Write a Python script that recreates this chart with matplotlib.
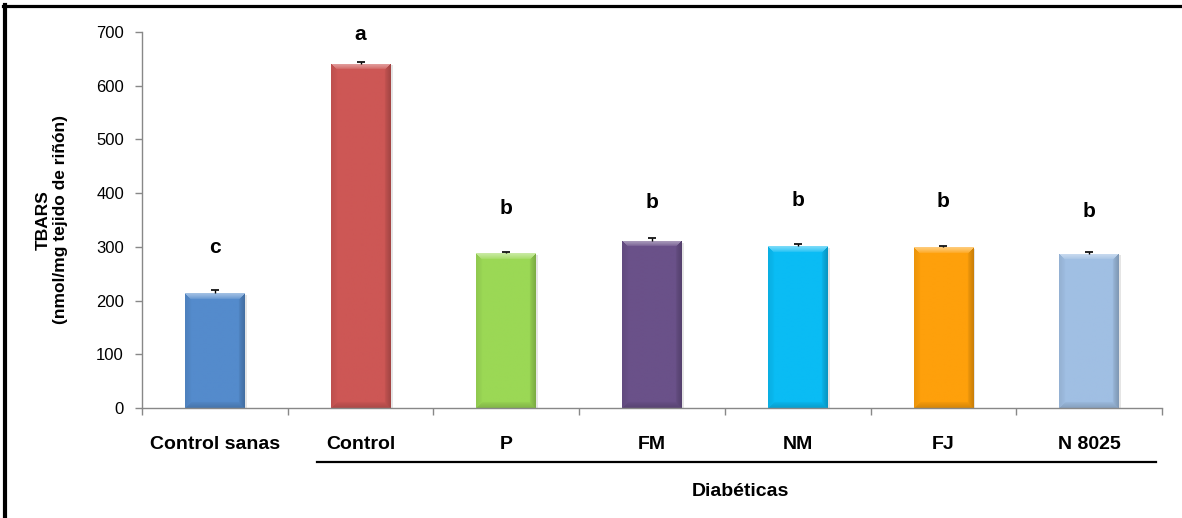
import numpy as np
import matplotlib
matplotlib.use("Agg")
import matplotlib.pyplot as plt
from matplotlib.lines import Line2D
from matplotlib.colors import to_rgb
import matplotlib.transforms as mtransforms

# Kidney TBARS per group
categories = ["Control sanas", "Control", "P", "FM", "NM", "FJ", "N 8025"]
tbars = [214, 641, 288, 311, 301, 299, 287]
sem = [5, 3, 2, 5, 4, 3, 3]
letters = ["c", "a", "b", "b", "b", "b", "b"]
letter_y = [298, 695, 372, 382, 387, 384, 365]
bar_colors = ["#548BCC", "#CD5755", "#9BD855", "#6A5189", "#0ABCF4", "#FEA00B", "#A0BFE3"]
group_label = "Diabéticas"
y_ticks = [0, 100, 200, 300, 400, 500, 600, 700]

plt.rcParams["font.family"] = ["Liberation Sans", "DejaVu Sans"]

W, H = 1182, 518
fig = plt.figure(figsize=(W / 100, H / 100), dpi=100)
ax = fig.add_axes([142 / W, 1 - 408 / H, (1162 - 142) / W, (408 - 32) / H])

x = np.arange(len(categories))
bar_w = 0.41
bars = ax.bar(x, tbars, width=bar_w, color=bar_colors, edgecolor="none", zorder=2)

ax.set_xlim(-0.5, len(categories) - 0.5)
ax.set_ylim(0, 700)


def shade(base, h_px, w_px, bevel=6.0):
    """Soft bevelled fill: light top edge, shaded sides and bottom."""
    rgb = np.array(to_rgb(base))
    h_px, w_px = max(int(h_px), 2), max(int(w_px), 2)
    ii, jj = np.mgrid[0:h_px, 0:w_px].astype(float)
    d = np.stack([ii, jj, w_px - 1 - jj, h_px - 1 - ii])
    nearest = d.argmin(axis=0)
    dmin = d.min(axis=0)
    # strength fades from the edge inward
    k = np.clip(1 - dmin / bevel, 0, 1) ** 0.7
    img = np.tile(rgb, (h_px, w_px, 1))
    white = np.ones(3)
    targets = [rgb * 0.55 + white * 0.45,   # top
               rgb * 0.93,                  # left
               rgb * 0.80,                  # right
               rgb * 0.85]                  # bottom
    for n, t in enumerate(targets):
        m = nearest == n
        img[m] = img[m] * (1 - k[m, None]) + t * k[m, None]
    return np.clip(img, 0, 1)


px_per_unit = (408 - 32) / 700
px_per_cat = (1162 - 142) / len(categories)
for rect, col in zip(bars, bar_colors):
    x0, w, h = rect.get_x(), rect.get_width(), rect.get_height()
    img = shade(col, h * px_per_unit, w * px_per_cat)
    im = ax.imshow(img, extent=(x0, x0 + w, 0, h), aspect="auto",
                   interpolation="bilinear", zorder=2.5)
    im.set_clip_path(rect)
    # soft drop shadow
    ax.bar(x0 + w / 2 + 0.01, h, width=w + 0.01, bottom=-3, color="#000000",
           alpha=0.10, zorder=1.5, edgecolor="none")

ax.set_aspect("auto")
ax.set_xlim(-0.5, len(categories) - 0.5)
ax.set_ylim(0, 700)

# upper error bars (T shape)
tops = np.array(tbars) + np.array(sem)
ax.vlines(x, tbars, tops, color="black", linewidth=1.0, zorder=4)
ax.plot(x, tops, linestyle="none", marker="_", markersize=6,
        markeredgewidth=1.2, color="black", zorder=4)

for xi, lab, ly in zip(x, letters, letter_y):
    ax.text(xi, ly, lab, ha="center", va="center", fontsize=15,
            fontweight="bold", color="black", zorder=5)

# spines and ticks
for s in ["top", "right"]:
    ax.spines[s].set_visible(False)
for s in ["left", "bottom"]:
    ax.spines[s].set_color("#888888")
    ax.spines[s].set_linewidth(1.0)

ax.set_yticks(y_ticks)
ax.tick_params(axis="y", direction="out", length=5, width=1, color="#888888",
               labelsize=12, pad=8)
ax.set_xticks(x)
ax.set_xticklabels(categories, fontsize=14, fontweight="bold")
ax.tick_params(axis="x", which="major", length=0, pad=20)
ax.set_xticks(np.arange(-0.5, len(categories)), minor=True)
ax.tick_params(axis="x", which="minor", direction="out", length=5, width=1,
               color="#888888")

# group underline and label
trans = mtransforms.blended_transform_factory(ax.transData, fig.transFigure)
ax.add_line(Line2D([0.70, 6.46], [1 - 462 / H, 1 - 462 / H], transform=trans,
                   color="black", linewidth=1.6, clip_on=False))
fig.text(740 / W, 1 - 492 / H, group_label, ha="center", va="center",
         fontsize=14, fontweight="bold")

fig.text(52 / W, 1 - 220 / H, "TBARS\n(nmol/mg tejido de riñón)", rotation=90,
         ha="center", va="center", multialignment="center", fontsize=12.5,
         fontweight="bold")

# outer frame (top and left edges)
fig.add_artist(Line2D([3 / W, 1], [1 - 5.5 / H, 1 - 5.5 / H],
                      transform=fig.transFigure, color="black", linewidth=2.3))
fig.add_artist(Line2D([5.3 / W, 5.3 / W], [0, 1 - 4.5 / H],
                      transform=fig.transFigure, color="black", linewidth=3.0))

fig.savefig("out.png", dpi=100, facecolor="white")
